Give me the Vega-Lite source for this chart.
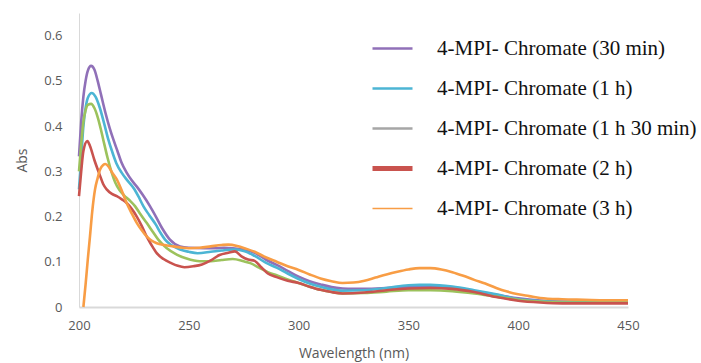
{
  "$schema": "https://vega.github.io/schema/vega-lite/v6.json",
  "width": 549,
  "height": 294,
  "autosize": "none",
  "padding": {"left": 79, "top": 13, "right": 73, "bottom": 56},
  "background": "white",
  "config": {"view": {"stroke": null}, "font": "Open Sans"},
  "datasets": {
    "p": [[200,0.333],[201,0.41],[202,0.465],[203,0.50],[204,0.522],[205.5,0.533],[207,0.525],[208.5,0.50],[210,0.47],[212,0.43],[214,0.395],[215.6,0.371],[217.5,0.345],[219.3,0.32],[221.7,0.297],[224,0.28],[226.5,0.265],[229,0.248],[232.3,0.223],[235,0.2],[238,0.173],[241.4,0.149],[246,0.134],[250,0.131],[257,0.13],[262,0.13],[266,0.131],[270,0.13],[275,0.127],[280,0.12],[285,0.105],[290,0.093],[295,0.08],[300,0.067],[305,0.057],[310,0.05],[315,0.044],[320,0.041],[325,0.04],[330,0.04],[340,0.042],[350,0.045],[360,0.045],[370,0.042],[380,0.035],[390,0.027],[400,0.019],[410,0.014],[420,0.012],[430,0.012],[440,0.011],[450,0.011]],
    "b": [[200,0.26],[201,0.33],[202,0.40],[203,0.44],[204,0.462],[205.8,0.473],[207.5,0.465],[209.5,0.44],[211.5,0.405],[213.3,0.371],[215,0.345],[217,0.318],[219.4,0.297],[222,0.28],[225,0.262],[227,0.245],[229.3,0.223],[232,0.203],[235,0.182],[237,0.165],[239.2,0.149],[242,0.137],[246,0.127],[250,0.122],[254,0.119],[260,0.122],[265,0.125],[270,0.127],[275,0.124],[280,0.113],[285,0.098],[290,0.087],[295,0.074],[300,0.062],[305,0.052],[310,0.045],[315,0.039],[320,0.036],[330,0.037],[340,0.042],[350,0.048],[355,0.049],[360,0.049],[370,0.045],[380,0.037],[390,0.028],[400,0.017],[410,0.013],[420,0.011],[430,0.010],[440,0.010],[450,0.010]],
    "g": [[200,0.30],[201,0.36],[202,0.41],[203,0.435],[204,0.447],[205.5,0.449],[207,0.44],[208.5,0.42],[210,0.392],[211,0.371],[213,0.33],[214.9,0.297],[216.5,0.275],[218.5,0.258],[220.5,0.247],[223,0.236],[225.5,0.223],[228,0.205],[230.8,0.186],[233.5,0.167],[236.1,0.149],[240,0.13],[244.5,0.116],[249,0.107],[255,0.101],[260,0.101],[265,0.104],[270,0.106],[275,0.101],[278,0.097],[282,0.087],[286,0.077],[290,0.07],[295,0.061],[300,0.053],[305,0.045],[310,0.038],[315,0.033],[320,0.03],[330,0.031],[340,0.034],[350,0.037],[360,0.037],[370,0.035],[380,0.03],[390,0.023],[400,0.016],[410,0.012],[420,0.01],[430,0.01],[440,0.01],[450,0.01]],
    "r": [[200,0.245],[201,0.30],[202,0.345],[203.8,0.367],[205,0.356],[207,0.325],[209.6,0.29],[211,0.272],[212.6,0.26],[215,0.25],[217.2,0.245],[219.5,0.238],[221.7,0.23],[224,0.217],[226.3,0.2],[228.5,0.18],[230.8,0.156],[233,0.137],[235.4,0.119],[238.5,0.106],[242,0.097],[245,0.091],[248,0.088],[252,0.09],[256,0.094],[260,0.103],[264,0.115],[268,0.12],[271,0.123],[274,0.112],[277,0.105],[280,0.102],[283,0.088],[286,0.074],[290,0.066],[295,0.058],[300,0.053],[305,0.045],[310,0.038],[315,0.033],[320,0.03],[330,0.032],[340,0.037],[350,0.041],[360,0.042],[370,0.04],[380,0.033],[390,0.022],[400,0.014],[410,0.01],[420,0.008],[430,0.008],[440,0.008],[450,0.008]],
    "o": [[202,0.0],[203,0.05],[204,0.105],[205,0.156],[206,0.21],[207.3,0.26],[208.5,0.285],[209.6,0.304],[211,0.314],[212,0.316],[213.5,0.31],[215,0.298],[217.2,0.282],[219.5,0.257],[221.7,0.23],[224,0.207],[226.3,0.186],[228.5,0.17],[230.8,0.156],[233,0.147],[235.4,0.141],[239,0.137],[243,0.134],[247,0.131],[250,0.13],[255,0.131],[260,0.134],[265,0.137],[268,0.138],[272,0.135],[276,0.129],[280,0.122],[285,0.11],[290,0.1],[295,0.09],[300,0.082],[305,0.072],[310,0.063],[315,0.057],[320,0.053],[325,0.054],[330,0.058],[335,0.065],[340,0.072],[345,0.078],[350,0.083],[355,0.086],[360,0.086],[365,0.083],[370,0.077],[375,0.069],[380,0.06],[385,0.052],[390,0.042],[395,0.034],[400,0.028],[405,0.024],[410,0.02],[420,0.017],[430,0.016],[440,0.015],[450,0.015]]
  },
  "layer": [
    {"data": {"name": "p"}, "transform": [{"calculate": "'4-MPI- Chromate (30 min)'", "as": "series"}, {"calculate": "datum[0]", "as": "nm"}, {"calculate": "datum[1]", "as": "abs"}], "mark": {"type": "line", "strokeWidth": 2.6, "interpolate": "monotone"}, "encoding": {"x": {"field": "nm", "type": "quantitative"}, "y": {"field": "abs", "type": "quantitative"}, "color": {"field": "series", "type": "nominal"}}},
    {"data": {"name": "b"}, "transform": [{"calculate": "'4-MPI- Chromate (1 h)'", "as": "series"}, {"calculate": "datum[0]", "as": "nm"}, {"calculate": "datum[1]", "as": "abs"}], "mark": {"type": "line", "strokeWidth": 2.6, "interpolate": "monotone"}, "encoding": {"x": {"field": "nm", "type": "quantitative"}, "y": {"field": "abs", "type": "quantitative"}, "color": {"field": "series", "type": "nominal"}}},
    {"data": {"name": "g"}, "transform": [{"calculate": "datum[0]", "as": "nm"}, {"calculate": "datum[1]", "as": "abs"}], "mark": {"type": "line", "strokeWidth": 2.6, "interpolate": "monotone", "color": "#9CC25C"}, "encoding": {"x": {"field": "nm", "type": "quantitative"}, "y": {"field": "abs", "type": "quantitative"}}},
    {"data": {"name": "r"}, "transform": [{"calculate": "'4-MPI- Chromate (2 h)'", "as": "series"}, {"calculate": "datum[0]", "as": "nm"}, {"calculate": "datum[1]", "as": "abs"}], "mark": {"type": "line", "strokeWidth": 2.6, "interpolate": "monotone"}, "encoding": {"x": {"field": "nm", "type": "quantitative"}, "y": {"field": "abs", "type": "quantitative"}, "color": {"field": "series", "type": "nominal"}}},
    {"data": {"name": "o"}, "transform": [{"calculate": "'4-MPI- Chromate (3 h)'", "as": "series"}, {"calculate": "datum[0]", "as": "nm"}, {"calculate": "datum[1]", "as": "abs"}], "mark": {"type": "line", "strokeWidth": 2.6, "interpolate": "monotone"}, "encoding": {"x": {"field": "nm", "type": "quantitative", "scale": {"domain": [200, 450], "nice": false}, "axis": {"values": [200, 250, 300, 350, 400, 450], "labelFlush": false, "title": "Wavelength (nm)", "ticks": false, "grid": false, "domainColor": "#D9D9D9", "domainWidth": 2, "labelColor": "#595959", "labelFontSize": 13, "labelPadding": 12, "titleColor": "#595959", "titleFontSize": 14, "titleFontWeight": "normal", "titlePadding": 14}}, "y": {"field": "abs", "type": "quantitative", "scale": {"domain": [0, 0.65], "nice": false}, "axis": {"values": [0, 0.1, 0.2, 0.3, 0.4, 0.5, 0.6], "labelFlush": false, "format": "~g", "title": "Abs", "ticks": false, "grid": false, "domainColor": "#D9D9D9", "domainWidth": 1, "labelColor": "#595959", "labelFontSize": 13, "labelPadding": 17, "titleColor": "#595959", "titleFontSize": 14, "titleFontWeight": "normal", "titlePadding": 14}}, "color": {"field": "series", "type": "nominal", "scale": {"domain": ["4-MPI- Chromate (30 min)", "4-MPI- Chromate (1 h)", "4-MPI- Chromate (1 h 30 min)", "4-MPI- Chromate (2 h)", "4-MPI- Chromate (3 h)"], "range": ["#9070B8", "#4CB5D4", "#A6A6A6", "#C9534E", "#F89D45"]}, "legend": {"title": null, "orient": "none", "legendX": 303, "legendY": 25, "padding": 0, "symbolType": "stroke", "symbolSize": 1600, "symbolStrokeWidth": 3, "labelFont": "Liberation Serif", "labelFontSize": 21, "labelColor": "#111111", "labelOffset": 34, "labelLimit": 400, "rowPadding": 18, "encode": {"symbols": {"update": {"strokeWidth": {"signal": "datum.value === '4-MPI- Chromate (2 h)' ? 5 : datum.value === '4-MPI- Chromate (3 h)' ? 1.5 : 2.5"}}}}}}}}
  ]
}
